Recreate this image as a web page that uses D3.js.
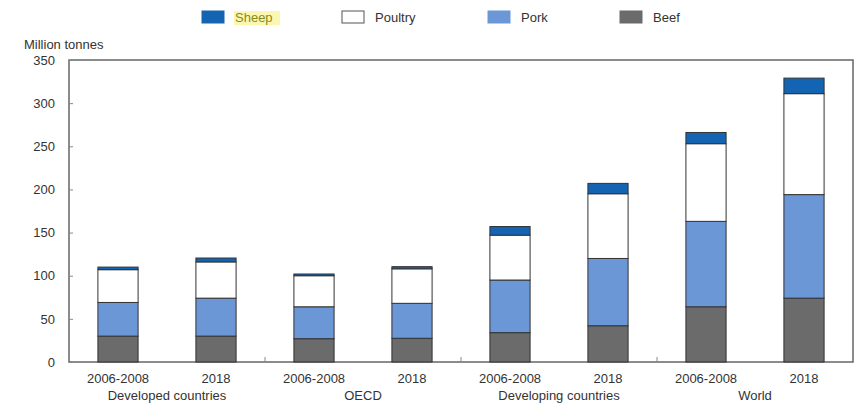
<!DOCTYPE html>
<html>
<head>
<meta charset="utf-8">
<script src="https://cdn.jsdelivr.net/npm/d3@7"></script>
<style>
  body { margin: 0; background: #fff; }
  text { font-family: "Liberation Sans Narrow", "Liberation Sans", Arial, sans-serif; fill: #333; }
</style>
</head>
<body>
<div id="chart"></div>
<script>
// categories
var groups = ["Developed countries", "OECD", "Developing countries", "World"];
var periods = ["2006-2008", "2018"];
// series values (million tonnes), one per bar, in group/period order
var beef    = [30, 30, 27, 27.5, 34, 42, 64, 74];
var pork    = [39, 44, 37, 40.5, 61, 78, 99, 120];
var poultry = [38, 42, 36, 40, 52, 75, 90, 117];
var sheep   = [3, 4.5, 2, 2.5, 10, 12, 13, 18];
var seriesNames = ["Beef", "Pork", "Poultry", "Sheep"];
var legendOrder = ["Sheep", "Poultry", "Pork", "Beef"];
var yTicks = [0, 50, 100, 150, 200, 250, 300, 350];

var colors = {Beef: "#6b6b6b", Pork: "#6b97d7", Poultry: "#ffffff", Sheep: "#1464b4"};

var rows = [];
groups.forEach(function(g, gi) {
  periods.forEach(function(p, pi) {
    var i = gi * 2 + pi;
    rows.push({key: g + "|" + p, group: g, period: p,
      Beef: beef[i], Pork: pork[i], Poultry: poultry[i], Sheep: sheep[i]});
  });
});

var margin = {top: 60, right: 4, bottom: 41, left: 69},
    width = 857 - margin.left - margin.right,
    height = 403 - margin.top - margin.bottom;

var svg = d3.select("#chart").append("svg")
    .attr("width", 857)
    .attr("height", 403);

var g = svg.append("g")
    .attr("transform", "translate(" + margin.left + "," + margin.top + ")");

var x = d3.scaleBand().domain(rows.map(function(r) { return r.key; }))
    .range([0, width]).paddingInner(0.59).paddingOuter(0.295);
var xg = d3.scaleBand().domain(groups).range([0, width]);
var y = d3.scaleLinear().domain([0, 350]).range([height, 0]);

var stack = d3.stack().keys(seriesNames)(rows);

// frame
g.append("rect")
    .attr("x", 0).attr("y", 0)
    .attr("width", width).attr("height", height)
    .attr("fill", "none").attr("stroke", "#666").attr("stroke-width", 1.5);

// bars
g.selectAll(".layer")
  .data(stack)
  .enter().append("g")
    .attr("class", "layer")
    .attr("fill", function(d) { return colors[d.key]; })
  .selectAll("rect")
  .data(function(d) { return d; })
  .enter().append("rect")
    .attr("x", function(d) { return x(d.data.key); })
    .attr("y", function(d) { return y(d[1]); })
    .attr("width", x.bandwidth())
    .attr("height", function(d) { return y(d[0]) - y(d[1]); })
    .attr("stroke", "#333")
    .attr("stroke-width", 1);

// y axis
var yAxis = d3.axisRight(y).tickValues(yTicks).tickSize(4).tickFormat(d3.format("d"));
var ya = g.append("g").call(yAxis);
ya.select(".domain").remove();
ya.selectAll("line").attr("stroke", "#888");
ya.selectAll("text")
    .attr("x", -14)
    .style("text-anchor", "end")
    .style("font-size", "13px");

// group separators on the bottom axis
g.selectAll(".sep")
  .data(groups.slice(1))
  .enter().append("line")
    .attr("x1", function(d) { return xg(d); })
    .attr("x2", function(d) { return xg(d); })
    .attr("y1", height).attr("y2", height - 5)
    .attr("stroke", "#888");

// x labels
var xAxis = d3.axisBottom(x).tickSize(0)
    .tickFormat(function(k) { return k.split("|")[1]; });
var xa = g.append("g").attr("transform", "translate(0," + height + ")").call(xAxis);
xa.select(".domain").remove();
xa.selectAll("text").attr("y", 12).style("font-size", "13px");

g.selectAll(".glabel")
  .data(groups)
  .enter().append("text")
    .attr("x", function(d) { return xg(d) + xg.bandwidth() / 2 + (d == "OECD" || d == "World" ? 0 : 0); })
    .attr("y", height + 38)
    .attr("text-anchor", "middle")
    .style("font-size", "13px")
    .text(function(d) { return d; });

// unit label
svg.append("text")
    .attr("x", 24).attr("y", 49)
    .style("font-size", "13px")
    .text("Million tonnes");

// legend
var legX = [202, 342, 488, 620];
var leg = svg.selectAll(".leg")
  .data(legendOrder)
  .enter().append("g")
    .attr("transform", function(d, i) { return "translate(" + legX[i] + ",11)"; });

leg.filter(function(d) { return d == "Sheep"; })
  .append("rect")
    .attr("x", 32).attr("y", 0)
    .attr("width", 46).attr("height", 14)
    .attr("fill", "#fbf7b0");

leg.append("rect")
    .attr("width", 22).attr("height", 12)
    .attr("fill", function(d) { return colors[d]; })
    .attr("stroke", function(d) { return d == "Poultry" ? "#555" : colors[d]; });

leg.append("text")
    .attr("x", 33).attr("y", 11)
    .style("font-size", "13px")
    .style("fill", function(d) { return d == "Sheep" ? "#8a8a1a" : "#333"; })
    .text(function(d) { return d; });
</script>
</body>
</html>
